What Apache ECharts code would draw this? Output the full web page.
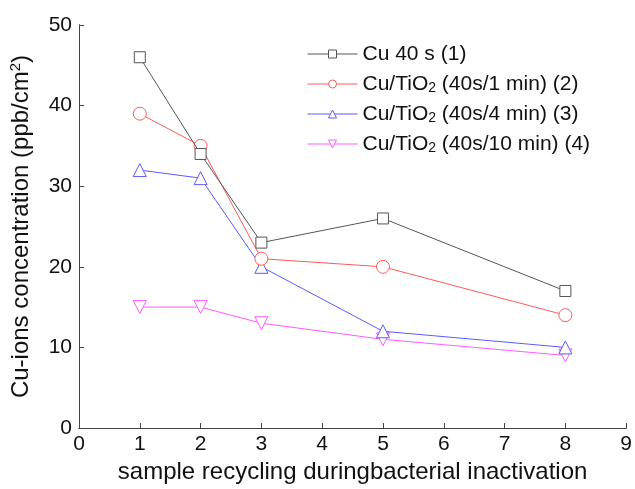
<!DOCTYPE html>
<html><head><meta charset="utf-8">
<script src="https://cdn.jsdelivr.net/npm/echarts@6/dist/echarts.min.js"></script>
<style>html,body{margin:0;padding:0;background:#fff}#c{width:635px;height:489px}</style>
</head><body><div id="c"></div>
<script>
const xValues = [1, 2, 3, 5, 8];
const cu40 = [46, 34, 23, 26, 17];
const cuTi1 = [39, 35, 21, 20, 14];
const cuTi4 = [32, 31, 20, 12, 10];
const cuTi10 = [15, 15, 13, 11, 9];
const seriesNames = ['Cu 40 s (1)', 'Cu/TiO2 (40s/1 min) (2)', 'Cu/TiO2 (40s/4 min) (3)', 'Cu/TiO2 (40s/10 min) (4)'];
const colors = ['#555555', '#ff5a5a', '#5a5aff', '#ff5aff'];
const symbols = ['rect', 'circle', 'triangle', 'triangle'];
const rotations = [0, 0, 0, 180];
const allData = [cu40, cuTi1, cuTi4, cuTi10];

const font = 'Liberation Sans, Arial, sans-serif';
const chart = echarts.init(document.getElementById('c'));
const axisLine = {show: true, lineStyle: {color: '#444', width: 1}};
chart.setOption({
  animation: false,
  textStyle: {fontFamily: font},
  grid: {left: 78, right: 5, top: 25, bottom: 61},
  legend: {
    orient: 'vertical', left: 302, top: 38, itemWidth: 50, itemHeight: 10, itemGap: 4,
    data: seriesNames,
    lineStyle: {width: 1},
    itemStyle: {borderWidth: 1},
    textStyle: {fontSize: 21, color: '#111', fontFamily: font, lineHeight: 22,
      rich: {s: {fontSize: 14, verticalAlign: 'bottom', lineHeight: 22, padding: [12, 0, 0, 0], fontFamily: font, color: '#111'},
             n: {fontSize: 21, lineHeight: 22, fontFamily: font, color: '#111'}}},
    formatter: function (name) {
      if (name.indexOf('TiO2') >= 0) {
        const parts = name.split('TiO2');
        return '{n|' + parts[0] + 'TiO}{s|2}{n|' + parts[1] + '}';
      }
      return '{n|' + name + '}';
    }
  },
  xAxis: [{
    type: 'value', min: 0, max: 9, interval: 1,
    name: 'sample recycling duringbacterial inactivation', nameLocation: 'middle', nameGap: 28,
    nameTextStyle: {fontSize: 24, color: '#111', fontFamily: font},
    axisLine: axisLine, axisTick: {inside: true, length: 5, lineStyle: {color: '#444'}},
    axisLabel: {fontSize: 21, color: '#111', margin: 6, fontFamily: font},
    splitLine: {show: false}
  }, {
    type: 'value', min: 0, max: 9, position: 'top', axisLine: axisLine,
    axisTick: {show: false}, axisLabel: {show: false}, splitLine: {show: false}
  }],
  yAxis: [{
    type: 'value', min: 0, max: 50, interval: 10,
    name: '{n|Cu-ions concentration (ppb/cm}{s|2}{n|)}', nameLocation: 'middle', nameGap: 44, nameRotate: 90,
    nameTextStyle: {fontSize: 24, color: '#111', fontFamily: font,
      rich: {n: {fontSize: 24, fontFamily: font, color: '#111'},
             s: {fontSize: 15, verticalAlign: 'top', padding: [0, 0, 12, 0], fontFamily: font, color: '#111'}}},
    axisLine: axisLine, axisTick: {inside: true, length: 5, lineStyle: {color: '#444'}},
    axisLabel: {fontSize: 21, color: '#111', margin: 7, fontFamily: font},
    splitLine: {show: false}
  }, {
    type: 'value', min: 0, max: 50, position: 'right', axisLine: axisLine,
    axisTick: {show: false}, axisLabel: {show: false}, splitLine: {show: false}
  }],
  series: allData.map((d, i) => ({
    name: seriesNames[i], type: 'line',
    data: xValues.map((x, j) => [x, d[j]]),
    symbol: symbols[i], symbolSize: i === 0 ? 11 : 13, symbolRotate: rotations[i],
    showAllSymbol: true,
    lineStyle: {color: colors[i], width: 1},
    itemStyle: {color: '#fff', borderColor: colors[i], borderWidth: 1},
    z: 10 - i
  }))
});
</script></body></html>
